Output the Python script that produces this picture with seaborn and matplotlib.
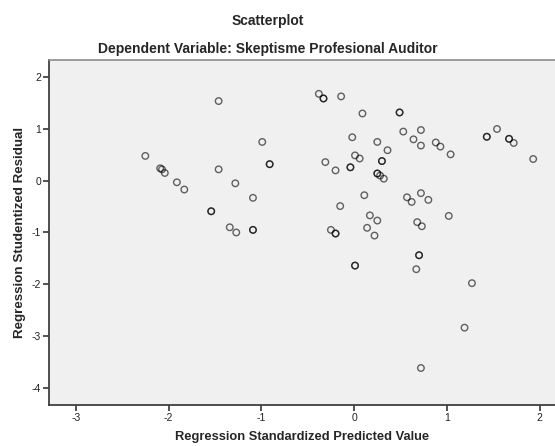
import matplotlib
matplotlib.use("Agg")
import matplotlib.pyplot as plt
import seaborn as sns
import pandas as pd

# Regression residual scatter;
# repeated entries are points that sit on top of each other
predicted = [-2.25, -2.09, -2.07, -2.04, -1.91, -1.83, -1.46, -0.99, -0.91, -0.91,
             -1.46, -1.28, -1.09, -1.54, -1.54, -1.34, -1.27, -1.09, -1.09, -0.38,
             -0.33, -0.33, -0.14, 0.09, -0.02, 0.25, 0.01, 0.06, 0.30, 0.30,
             -0.31, -0.20, -0.04, -0.04, 0.25, 0.25, 0.28, 0.32, 0.11, -0.15,
             0.17, 0.25, 0.14, 0.22, -0.25, -0.20, -0.20, 0.49, 0.49, 0.53,
             0.72, 0.36, 0.64, 0.72, 0.88, 0.93, 1.04, 1.43, 1.43, 1.54,
             1.67, 1.67, 1.72, 1.93, 0.57, 0.62, 0.72, 0.80, 1.02, 0.68,
             0.73, 0.70, 0.70, 0.01, 0.01, 0.67, 1.27, 1.19, 0.72]
residual = [0.48, 0.24, 0.22, 0.15, -0.03, -0.17, 1.54, 0.75, 0.32, 0.32,
            0.22, -0.05, -0.33, -0.59, -0.59, -0.90, -1.00, -0.95, -0.95, 1.68,
            1.59, 1.59, 1.63, 1.30, 0.84, 0.75, 0.49, 0.43, 0.38, 0.38,
            0.36, 0.20, 0.26, 0.26, 0.14, 0.14, 0.10, 0.04, -0.28, -0.49,
            -0.67, -0.77, -0.91, -1.06, -0.95, -1.02, -1.02, 1.32, 1.32, 0.95,
            0.98, 0.59, 0.80, 0.68, 0.74, 0.66, 0.51, 0.85, 0.85, 1.00,
            0.81, 0.81, 0.73, 0.42, -0.32, -0.41, -0.24, -0.37, -0.68, -0.80,
            -0.88, -1.44, -1.44, -1.64, -1.64, -1.71, -1.98, -2.84, -3.62]
x_ticks = [-3, -2, -1, 0, 1, 2]
y_ticks = [2, 1, 0, -1, -2, -3, -4]

df = pd.DataFrame({"pred": predicted, "resid": residual})

sns.set_style("white")
plt.rcParams["font.family"] = ["Liberation Sans", "DejaVu Sans"]

fig = plt.figure(figsize=(5.55, 4.46), dpi=100)
ax = fig.add_axes([0.0888, 0.0926, 0.9112, 0.7729])
ax.set_facecolor("#f0f0f0")

sns.scatterplot(data=df, x="pred", y="resid", ax=ax, marker="o", s=22,
                facecolor="none", edgecolor=(0, 0, 0, 0.6), linewidth=1.0)

ax.set_xlim(-3.285, 2.165)
ax.set_ylim(-4.329, 2.334)
ax.set_xticks(x_ticks)
ax.set_yticks(y_ticks)
ax.set_xticklabels([str(t) for t in x_ticks], fontsize=7.5, color="#222222")
ax.set_yticklabels([str(t) for t in y_ticks], fontsize=7.5, color="#222222")
ax.tick_params(axis="both", direction="out", length=4, width=1.2,
               color="#333333", pad=2, bottom=True, left=True)

for side in ["left", "bottom"]:
    ax.spines[side].set_color("#404040")
    ax.spines[side].set_linewidth(1.3)
ax.spines["top"].set_color("#8c8c8c")
ax.spines["top"].set_linewidth(1.2)
ax.spines["right"].set_visible(False)

ax.set_xlabel("Regression Standardized Predicted Value", fontsize=9.3,
              fontweight="bold", labelpad=6)
ax.set_ylabel("Regression Studentized Residual", fontsize=9.6,
              fontweight="bold", labelpad=4)

fig.text(0.483, 0.953, "Scatterplot", ha="center", va="center",
         fontsize=10, fontweight="bold")
fig.text(0.483, 0.891, "Dependent Variable: Skeptisme Profesional Auditor",
         ha="center", va="center", fontsize=10, fontweight="bold")

fig.savefig("out.png", dpi=100, facecolor="white")
